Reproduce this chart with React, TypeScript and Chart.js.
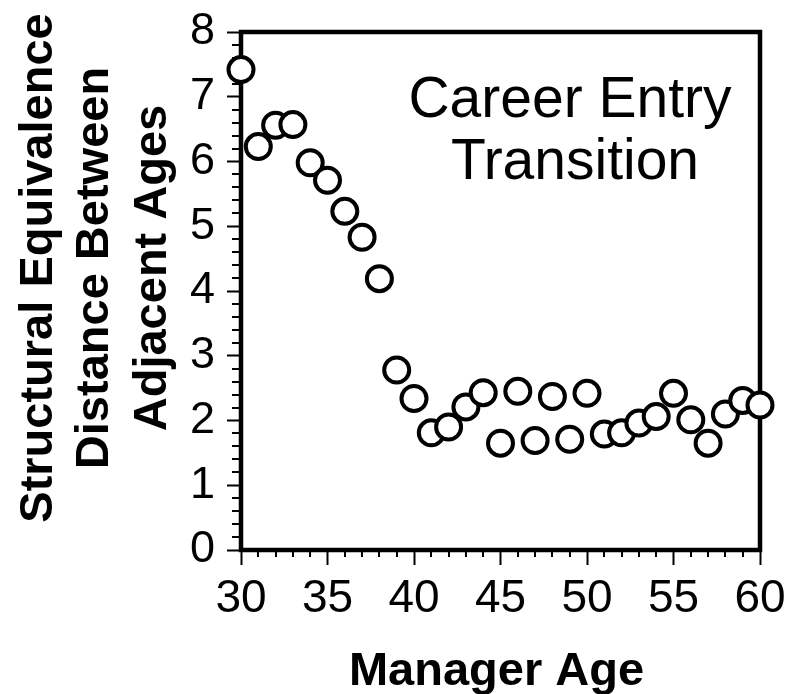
import React, { useEffect, useRef } from "react";
import { Chart, registerables } from "chart.js";

Chart.register(...registerables);

// Manager age (years) on the horizontal axis
const ages = [
  30, 31, 32, 33, 34, 35, 36, 37, 38, 39, 40, 41, 42, 43, 44, 45,
  46, 47, 48, 49, 50, 51, 52, 53, 54, 55, 56, 57, 58, 59, 60,
];

// Structural equivalence distance between each age and the next
const distances = [
  7.42, 6.23, 6.56, 6.57, 5.98, 5.71, 5.23, 4.83, 4.19, 2.78, 2.34, 1.81,
  1.9, 2.21, 2.43, 1.65, 2.45, 1.69, 2.37, 1.71, 2.42, 1.79, 1.81, 1.96,
  2.06, 2.42, 2.01, 1.65, 2.1, 2.31, 2.24,
];

const xRange = [30, 60];
const yRange = [0, 8];
const xMajorStep = 5;
const xMinorStep = 1;
const yMajorStep = 1;
const yMinorStep = 0.2;

const yTitleLines = ["Structural Equivalence", "Distance Between", "Adjacent Ages"];
const xTitle = "Manager Age";
const noteLines = ["Career Entry", "Transition"];

const FONT = "'Liberation Sans', Arial, Helvetica, sans-serif";

// Frame, minor ticks and text drawn around the plot
const decorPlugin = {
  id: "decor",
  beforeDatasetsDraw(chart: any) {
    const { ctx, chartArea } = chart;
    const xs = chart.scales.x;
    const ys = chart.scales.y;
    ctx.save();
    ctx.strokeStyle = "#000";

    // minor ticks on y (outward, left)
    ctx.lineWidth = 2;
    ctx.beginPath();
    const nY = Math.round((yRange[1] - yRange[0]) / yMinorStep);
    for (let i = 0; i <= nY; i++) {
      const v = yRange[0] + i * yMinorStep;
      if (Math.abs(v / yMajorStep - Math.round(v / yMajorStep)) < 1e-6) continue;
      const py = Math.round(ys.getPixelForValue(v));
      ctx.moveTo(chartArea.left - 9, py);
      ctx.lineTo(chartArea.left, py);
    }
    // minor ticks on x (outward, down)
    const nX = Math.round((xRange[1] - xRange[0]) / xMinorStep);
    for (let i = 0; i <= nX; i++) {
      const v = xRange[0] + i * xMinorStep;
      if (v % xMajorStep === 0) continue;
      const px = Math.round(xs.getPixelForValue(v));
      ctx.moveTo(px, chartArea.bottom);
      ctx.lineTo(px, chartArea.bottom + 7);
    }
    ctx.stroke();

    // plot frame
    ctx.lineWidth = 4.5;
    ctx.lineJoin = "miter";
    ctx.strokeRect(
      chartArea.left,
      chartArea.top,
      chartArea.right - chartArea.left,
      chartArea.bottom - chartArea.top
    );
    ctx.restore();
  },
  afterDraw(chart: any) {
    const { ctx, chartArea } = chart;
    ctx.save();
    ctx.fillStyle = "#000";

    // vertical axis title, three rotated lines
    ctx.font = `bold 47px ${FONT}`;
    ctx.textAlign = "center";
    ctx.textBaseline = "alphabetic";
    const baselines = [52, 108, 166];
    yTitleLines.forEach((line, i) => {
      ctx.save();
      ctx.translate(baselines[i], 268);
      ctx.rotate(-Math.PI / 2);
      ctx.fillText(line, 0, 0);
      ctx.restore();
    });

    // horizontal axis title
    ctx.font = `bold 47px ${FONT}`;
    ctx.fillText(xTitle, (chartArea.left + chartArea.right) / 2 - 4, 685);

    // in-plot note
    ctx.font = `57px ${FONT}`;
    ctx.fillText(noteLines[0], 570, 117);
    ctx.fillText(noteLines[1], 575, 179);
    ctx.restore();
  },
};

export default function App() {
  const canvasRef = useRef<HTMLCanvasElement | null>(null);

  useEffect(() => {
    if (!canvasRef.current) return;
    const points = ages.map((a, i) => ({ x: a, y: distances[i] }));
    const chart = new Chart(canvasRef.current, {
      type: "scatter",
      data: {
        datasets: [
          {
            data: points,
            showLine: false,
            pointStyle: "circle",
            pointRadius: 12.5,
            pointHoverRadius: 12.5,
            pointBorderWidth: 4,
            pointBorderColor: "#000",
            pointBackgroundColor: "#fff",
            clip: false as any,
          },
        ],
      },
      options: {
        animation: false,
        responsive: false,
        events: [],
        layout: { padding: { top: 32, right: 28, left: 0, bottom: 0 } },
        plugins: {
          legend: { display: false },
          tooltip: { enabled: false },
        },
        scales: {
          x: {
            type: "linear",
            min: xRange[0],
            max: xRange[1],
            afterFit: (scale: any) => {
              scale.height = 144;
              scale.paddingLeft = 0;
              scale.paddingRight = 0;
            },
            ticks: {
              stepSize: xMajorStep,
              color: "#000",
              padding: 7,
              maxRotation: 0,
              font: { family: FONT, size: 46 },
            },
            grid: {
              display: true,
              drawOnChartArea: false,
              drawTicks: true,
              tickLength: 15,
              tickWidth: 2,
              tickColor: "#000",
            },
            border: { display: false },
          },
          y: {
            type: "linear",
            min: yRange[0],
            max: yRange[1],
            afterFit: (scale: any) => {
              scale.width = 241;
              scale.paddingTop = 0;
              scale.paddingBottom = 0;
            },
            ticks: {
              stepSize: yMajorStep,
              color: "#000",
              padding: 12,
              font: { family: FONT, size: 45 },
            },
            grid: {
              display: true,
              drawOnChartArea: false,
              drawTicks: true,
              tickLength: 14,
              tickWidth: 2,
              tickColor: "#000",
            },
            border: { display: false },
          },
        },
      },
      plugins: [decorPlugin],
    });
    return () => chart.destroy();
  }, []);

  return (
    <div style={{ position: "fixed", left: 0, top: 0, width: 788, height: 694, background: "#fff" }}>
      <canvas ref={canvasRef} width={788} height={694} style={{ width: 788, height: 694 }} />
    </div>
  );
}
